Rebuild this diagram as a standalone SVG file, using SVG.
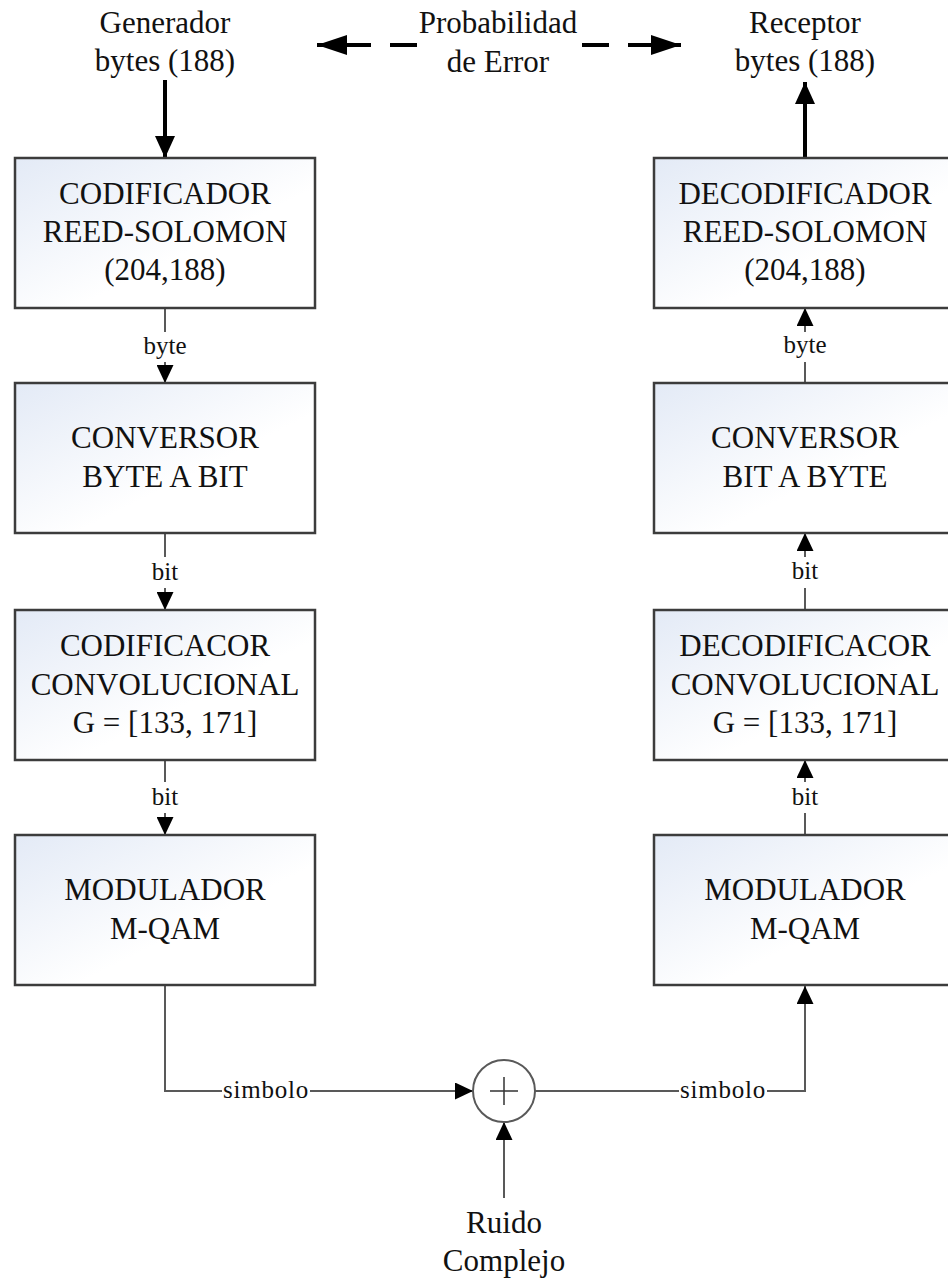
<svg xmlns="http://www.w3.org/2000/svg" width="948" height="1280" viewBox="0 0 948 1280">
<defs>
<linearGradient id="gf" x1="0" y1="0" x2="1" y2="1">
<stop offset="0" stop-color="#e3eaf6"/>
<stop offset="0.6" stop-color="#ffffff"/>
<stop offset="1" stop-color="#ffffff"/>
</linearGradient>
<marker id="as" markerWidth="18" markerHeight="17" refX="18" refY="8.5" orient="auto" markerUnits="userSpaceOnUse">
<path d="M0,0 L18,8.5 L0,17 z" fill="#000"/>
</marker>
<marker id="at" markerWidth="22" markerHeight="20" refX="22" refY="10" orient="auto" markerUnits="userSpaceOnUse">
<path d="M0,0 L22,10 L0,20 z" fill="#000"/>
</marker>
<marker id="ad" markerWidth="30" markerHeight="20" refX="30" refY="10" orient="auto" markerUnits="userSpaceOnUse">
<path d="M0,0 L30,10 L0,20 z" fill="#000"/>
</marker>
</defs>
<style>
.box{fill:url(#gf);stroke:#3c3c3c;stroke-width:2.5}
.t{font-family:"Liberation Serif","Times New Roman",serif;font-size:31px;fill:#111;text-anchor:middle}
.tl{font-family:"Liberation Serif","Times New Roman",serif;font-size:31px;fill:#111;text-anchor:middle}
.s{font-family:"Liberation Serif","Times New Roman",serif;font-size:25px;fill:#111;text-anchor:middle}
.sim{letter-spacing:0.8px}
.c{fill:none;stroke:#595959;stroke-width:2}
.thick{fill:none;stroke:#000;stroke-width:4}
.dash{fill:none;stroke:#000;stroke-width:4;stroke-dasharray:27 19}
</style>

<g id="connectors">
<path class="thick" d="M165,80 V158" marker-end="url(#at)"/>
<path class="thick" d="M805,158 V82" marker-end="url(#at)"/>
<path class="dash" d="M417,45 H317" marker-end="url(#ad)"/>
<path class="dash" d="M582,45 H681" marker-end="url(#ad)"/>

<path class="c" d="M165,308 V332"/>
<path class="c" d="M165,362 V383" marker-end="url(#as)"/>
<path class="c" d="M165,533 V557"/>
<path class="c" d="M165,588 V610" marker-end="url(#as)"/>
<path class="c" d="M165,760 V782"/>
<path class="c" d="M165,813 V835" marker-end="url(#as)"/>

<path class="c" d="M805,383 V362"/>
<path class="c" d="M805,332 V308" marker-end="url(#as)"/>
<path class="c" d="M805,610 V588"/>
<path class="c" d="M805,557 V533" marker-end="url(#as)"/>
<path class="c" d="M805,835 V813"/>
<path class="c" d="M805,782 V760" marker-end="url(#as)"/>

<path class="c" d="M165,985 V1091 H473" marker-end="url(#as)"/>
<path class="c" d="M535,1091 H805 V986" marker-end="url(#as)"/>
<path class="c" d="M504,1198 V1122" marker-end="url(#as)"/>

<rect x="222" y="1078" width="88" height="26" fill="#fff"/>
<text class="s sim" x="266" y="1098">simbolo</text>
<rect x="679" y="1078" width="88" height="26" fill="#fff"/>
<text class="s sim" x="723" y="1098">simbolo</text>

<text class="s" x="165" y="354">byte</text>
<text class="s" x="165" y="580">bit</text>
<text class="s" x="165" y="805">bit</text>
<text class="s" x="805" y="353">byte</text>
<text class="s" x="805" y="579">bit</text>
<text class="s" x="805" y="805">bit</text>
</g>

<g id="generador">
<text class="tl" x="165" y="33">Generador</text>
<text class="tl" x="165" y="71">bytes (188)</text>
</g>
<g id="probabilidad">
<text class="tl" x="498" y="33">Probabilidad</text>
<text class="tl" x="498" y="72">de Error</text>
</g>
<g id="receptor">
<text class="tl" x="805" y="33">Receptor</text>
<text class="tl" x="805" y="71">bytes (188)</text>
</g>

<g id="cod-rs">
<rect class="box" x="15" y="158" width="300" height="150"/>
<text class="t" x="165" y="204">CODIFICADOR</text>
<text class="t" x="165" y="242">REED-SOLOMON</text>
<text class="t" x="165" y="280">(204,188)</text>
</g>
<g id="conv-byte-bit">
<rect class="box" x="15" y="383" width="300" height="150"/>
<text class="t" x="165" y="448">CONVERSOR</text>
<text class="t" x="165" y="487">BYTE A BIT</text>
</g>
<g id="cod-conv">
<rect class="box" x="15" y="610" width="300" height="150"/>
<text class="t" x="165" y="656">CODIFICACOR</text>
<text class="t" x="165" y="695">CONVOLUCIONAL</text>
<text class="t" x="165" y="733">G = [133, 171]</text>
</g>
<g id="mod">
<rect class="box" x="15" y="835" width="300" height="150"/>
<text class="t" x="165" y="900">MODULADOR</text>
<text class="t" x="165" y="939">M-QAM</text>
</g>

<g id="dec-rs">
<rect class="box" x="654" y="158" width="300" height="150"/>
<text class="t" x="805" y="204">DECODIFICADOR</text>
<text class="t" x="805" y="242">REED-SOLOMON</text>
<text class="t" x="805" y="280">(204,188)</text>
</g>
<g id="conv-bit-byte">
<rect class="box" x="654" y="383" width="300" height="150"/>
<text class="t" x="805" y="448">CONVERSOR</text>
<text class="t" x="805" y="487">BIT A BYTE</text>
</g>
<g id="dec-conv">
<rect class="box" x="654" y="610" width="300" height="150"/>
<text class="t" x="805" y="656">DECODIFICACOR</text>
<text class="t" x="805" y="695">CONVOLUCIONAL</text>
<text class="t" x="805" y="733">G = [133, 171]</text>
</g>
<g id="demod">
<rect class="box" x="654" y="835" width="300" height="150"/>
<text class="t" x="805" y="900">MODULADOR</text>
<text class="t" x="805" y="939">M-QAM</text>
</g>

<g id="sumador">
<circle cx="504" cy="1091" r="31" fill="#fff" stroke="#595959" stroke-width="2"/>
<path d="M490,1091 H518 M504,1077 V1105" stroke="#333" stroke-width="1.5" fill="none"/>
</g>

<g id="ruido">
<text class="tl" x="504" y="1233">Ruido</text>
<text class="tl" x="504" y="1271">Complejo</text>
</g>
</svg>
